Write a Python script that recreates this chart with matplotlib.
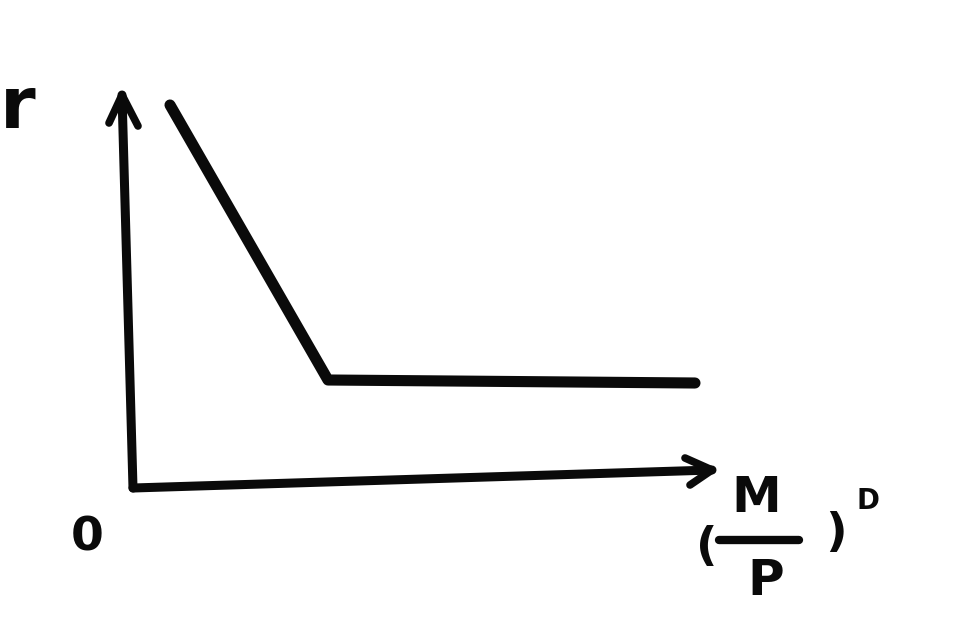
import matplotlib
matplotlib.use("Agg")
import matplotlib.pyplot as plt

# Data (economic units: x = real money balances M/P, y = interest rate r)
curve_x = [0.37, 1.95, 5.62]
curve_y = [3.83, 1.08, 1.05]

yaxis_x = [0.0, -0.11]
yaxis_y = [0.0, 3.93]
xaxis_x = [0.0, 5.79]
xaxis_y = [0.0, 0.18]

fig = plt.figure(figsize=(9.75, 6.37), dpi=100)
ax = fig.add_axes([0, 0, 1, 1])
ax.set_xlim(-1.33, 8.42)
ax.set_ylim(-1.49, 4.88)
ax.axis("off")

ink = "#0a0a0a"
ax.plot(yaxis_x, yaxis_y, color=ink, lw=6.5, solid_capstyle="round", solid_joinstyle="round")
ax.plot(xaxis_x, xaxis_y, color=ink, lw=6.5, solid_capstyle="round", solid_joinstyle="round")
# arrowheads (open chevrons)
ax.plot([-0.24, -0.11, 0.05], [3.65, 3.93, 3.62], color=ink, lw=5.5,
        solid_capstyle="round", solid_joinstyle="round")
ax.plot([5.52, 5.79, 5.57], [0.30, 0.18, 0.03], color=ink, lw=5.5,
        solid_capstyle="round", solid_joinstyle="round")
# curve
ax.plot(curve_x, curve_y, color=ink, lw=8, solid_capstyle="round", solid_joinstyle="round")

font = "DejaVu Sans"
ax.text(-1.33, 3.80, "r", fontsize=52, color=ink, ha="left", va="center",
        family=font, fontweight="bold")
ax.text(-0.46, -0.50, "0", fontsize=34, color=ink, ha="center", va="center",
        family=font, fontweight="bold")
ax.text(5.74, -0.60, "(", fontsize=34, color=ink, ha="center", va="center",
        family=font, fontweight="bold")
ax.text(6.23, -0.10, "M", fontsize=36, color=ink, ha="center", va="center",
        family=font, fontweight="bold")
ax.plot([5.86, 6.66], [-0.52, -0.52], color=ink, lw=6, solid_capstyle="round")
ax.text(6.33, -0.93, "P", fontsize=36, color=ink, ha="center", va="center",
        family=font, fontweight="bold")
ax.text(7.03, -0.45, ")", fontsize=34, color=ink, ha="center", va="center",
        family=font, fontweight="bold")
ax.text(7.35, -0.13, "D", fontsize=20, color=ink, ha="center", va="center",
        family=font, fontweight="bold")

fig.savefig("out.png", dpi=100, facecolor="white")
